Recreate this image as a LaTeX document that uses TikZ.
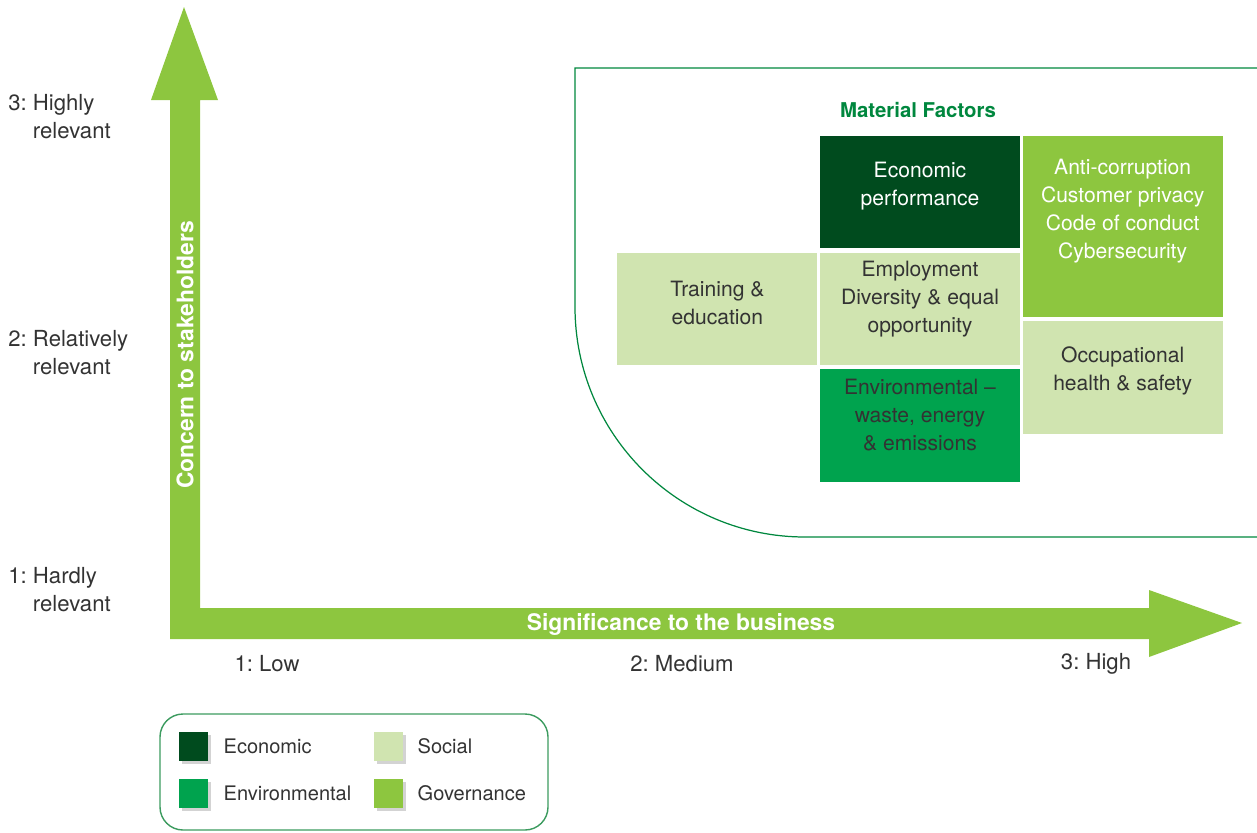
\documentclass[tikz,border=0pt]{standalone}
\usepackage{fontspec}
\setmainfont{TeX Gyre Heros}
\usetikzlibrary{positioning,shadows}
\frenchspacing

\definecolor{govgreen}{RGB}{141,198,63}
\definecolor{econgreen}{RGB}{0,75,30}
\definecolor{envgreen}{RGB}{0,163,78}
\definecolor{socgreen}{RGB}{208,228,176}
\definecolor{linegreen}{RGB}{0,135,62}
\definecolor{keyline}{RGB}{60,155,95}
\definecolor{txtgray}{RGB}{51,51,51}

\begin{document}
\begin{tikzpicture}[
  x=0.02cm, y=-0.02cm,
  font=\fontsize{11.4}{15.9}\selectfont, text=txtgray,
  cell/.style={rectangle, inner sep=0pt, minimum width=4cm, minimum height=2.25cm},
  celltext/.style={align=center, inner sep=0pt, font=\fontsize{12}{15.9}\selectfont},
  axislabel/.style={align=left, anchor=west, inner sep=0pt, font=\fontsize{12.6}{15.9}\selectfont},
  ticklabel/.style={inner sep=0pt, font=\fontsize{12.6}{15.9}\selectfont},
  arrowlabel/.style={text=white, font=\fontsize{13}{15}\selectfont\bfseries, inner sep=0pt},
  key/.style={rectangle, inner sep=0pt, minimum size=0.58cm,
    drop shadow={opacity=0.35, shadow xshift=0.06cm, shadow yshift=-0.06cm}},
  keytext/.style={inner sep=0pt, anchor=west}
]
\useasboundingbox (0,0) rectangle (1257,832);

% axes
\fill[govgreen] (170,100) -- (151,100) -- (184,7) -- (218,100) -- (200,100)
  -- (200,608) -- (1149,608) -- (1149,590) -- (1242,623) -- (1149,657)
  -- (1149,639) -- (170,639) -- cycle;
\node[arrowlabel] (xname) at (681,624) {Significance to the business};
\node[arrowlabel, rotate=90] (yname) at (185,355) {Concern to stakeholders};

\node[axislabel] (y3) at (8,117) {3: Highly\\\phantom{3: }relevant};
\node[axislabel] (y2) at (8,353) {2: Relatively\\\phantom{2: }relevant};
\node[axislabel] (y1) at (8,590) {1: Hardly\\\phantom{1: }relevant};

\node[ticklabel] (x1) at (267,664) {1: Low};
\node[ticklabel] (x2) at (682,664) {2: Medium};
\node[ticklabel] (x3) at (1096,664) {3: High};

% material factors area
\draw[linegreen, line width=0.7pt] (1257,68) -- (575,68) -- (575,307)
  .. controls (575,434) and (678,537) .. (805,537) -- (1257,537);
\node[text=linegreen, font=\fontsize{11.6}{14}\selectfont\bfseries] (title) at (918,110) {Material Factors};

\node[cell, fill=econgreen] (econ) at (920,192) {};
\node[cell, fill=govgreen, minimum height=3.62cm, anchor=north west] (gov) at ([xshift=0.04cm]econ.north east) {};
\node[cell, fill=socgreen, below=0.08cm of econ] (employ) {};
\node[cell, fill=socgreen, left=0.04cm of employ] (train) {};
\node[cell, fill=envgreen, below=0.06cm of employ] (env) {};
\node[cell, fill=socgreen, below=0.08cm of gov] (occ) {};

\node[celltext, text=white] (econ-t) at ([yshift=0.12cm]econ.center) {Economic\\performance};
\node[celltext, text=white] (gov-t) at ([yshift=0.31cm]gov.center) {Anti-corruption\\Customer privacy\\Code of conduct\\Cybersecurity};
\node[celltext] (employ-t) at ([yshift=0.21cm]employ.center) {Employment\\Diversity \& equal\\opportunity};
\node[celltext] (train-t) at ([yshift=0.12cm]train.center) {Training \&\\education};
\node[celltext] (env-t) at ([yshift=0.21cm]env.center) {Environmental --\\waste, energy\\\& emissions};
\node[celltext] (occ-t) at ([yshift=0.14cm]occ.center) {Occupational\\health \& safety};

% legend
\draw[keyline, line width=0.8pt, rounded corners=0.46cm] (160,714) rectangle (548,830);
\node[key, fill=econgreen] (key-econ) at (193.5,746.5) {};
\node[key, fill=socgreen] (key-soc) at (388.5,746.5) {};
\node[key, fill=envgreen] (key-env) at (193.5,793.5) {};
\node[key, fill=govgreen] (key-gov) at (388.5,793.5) {};
\node[keytext, right=0.3cm of key-econ] {Economic};
\node[keytext, right=0.28cm of key-soc] {Social};
\node[keytext, right=0.3cm of key-env] {Environmental};
\node[keytext, right=0.28cm of key-gov] {Governance};
\end{tikzpicture}
\end{document}
